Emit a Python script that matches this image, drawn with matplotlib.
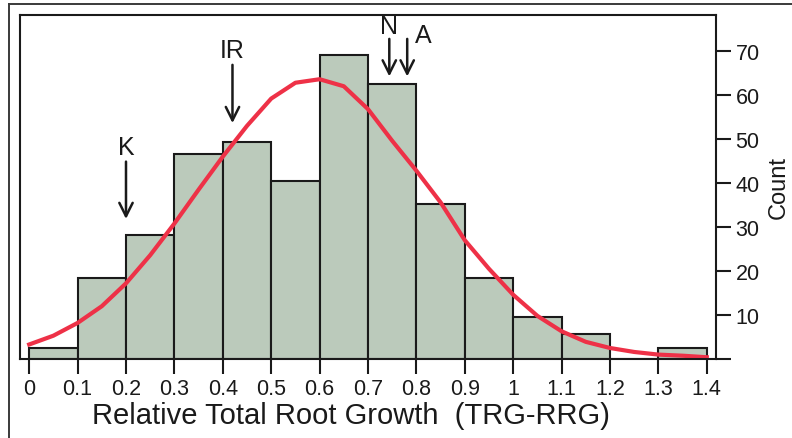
import numpy as np
import matplotlib.pyplot as plt
from matplotlib.lines import Line2D

plt.rcParams['font.family'] = ['Liberation Sans', 'DejaVu Sans']

# histogram bins (TRG-RRG) and counts
bin_left = [0.0, 0.1, 0.2, 0.3, 0.4, 0.5, 0.6, 0.7, 0.8, 0.9, 1.0, 1.1, 1.2, 1.3]
counts = [2.4, 18.4, 28.3, 46.6, 49.4, 40.5, 69.1, 62.5, 35.2, 18.4, 9.5, 5.7, 0, 2.4]

# fitted curve
curve_x = [0.0, 0.05, 0.1, 0.15, 0.2, 0.25, 0.3, 0.35, 0.4, 0.45, 0.5, 0.55, 0.6,
           0.65, 0.7, 0.75, 0.8, 0.85, 0.9, 0.95, 1.0, 1.05, 1.1, 1.15, 1.2,
           1.25, 1.3, 1.35, 1.4]
curve_y = [3.3, 5.3, 8.2, 12.0, 17.2, 23.6, 30.8, 38.5, 46.0, 53.0, 59.2, 62.8, 63.6,
           62.0, 56.8, 49.6, 42.8, 35.6, 27.0, 20.5, 14.6, 9.8, 6.3, 3.9, 2.5,
           1.6, 1.0, 0.75, 0.4]

# arrow markers: label, x, text x, text y, arrow start y, arrow end y
markers = [("K", 0.2, 0.2, 48.2, 45.5, 31.2),
           ("IR", 0.42, 0.42, 70.3, 67.5, 53.0),
           ("N", 0.744, 0.744, 75.6, 73.4, 63.6),
           ("A", 0.781, 0.815, 73.6, 73.4, 63.6)]

fig = plt.figure(figsize=(7.92, 4.39), dpi=100)
fx, fy = 8.5 / 792, 1 - 4.5 / 439
fig.lines.append(Line2D([fx, fx], [0, fy], transform=fig.transFigure,
                        color='#3a3a3a', linewidth=1.4))
fig.lines.append(Line2D([fx, 1], [fy, fy], transform=fig.transFigure,
                        color='#3a3a3a', linewidth=1.4))

ax = fig.add_axes([20/792, 1 - 360/439, 696/792, 344/439])
ax.bar(bin_left, counts, width=0.1, align='edge', color='#bbcabb',
       edgecolor='#1a1a1a', linewidth=1.5)
ax.plot(curve_x, curve_y, color='#ee3147', linewidth=3)

for lab, x, tx, ty, y0, y1 in markers:
    ax.annotate('', xy=(x, y1), xytext=(x, y0),
                arrowprops=dict(arrowstyle='->', color='#1a1a1a', lw=1.8,
                                mutation_scale=24))
    ax.text(tx, ty, lab, fontsize=18, ha='center', va='center', color='#1a1a1a')

ax.set_xlim(-0.019, 1.419)
ax.set_ylim(0, 78.2)
ax.set_xticks(np.round(np.arange(0, 1.41, 0.1), 1))
ax.set_xticklabels(['0', '0.1', '0.2', '0.3', '0.4', '0.5', '0.6', '0.7', '0.8',
                    '0.9', '1', '1.1', '1.2', '1.3', '1.4'])
ax.yaxis.tick_right()
ax.yaxis.set_label_position('right')
ax.set_yticks(range(0, 71, 10))
ax.set_yticklabels([''] + [str(v) for v in range(10, 71, 10)])
ax.tick_params(axis='both', direction='out', length=11, width=1.5, labelsize=15.5,
               colors='#1a1a1a', pad=3)
for s in ax.spines.values():
    s.set_linewidth(1.5)
    s.set_color('#1a1a1a')

ax.set_xlabel("Relative Total Root Growth  (TRG-RRG)", fontsize=21, color='#1a1a1a')
ax.xaxis.set_label_coords(0.476, -0.162)
ax.xaxis.label.set_va('center')
ax.set_ylabel("Count", fontsize=17, color='#1a1a1a', labelpad=6)

plt.savefig("out.png", dpi=100)
